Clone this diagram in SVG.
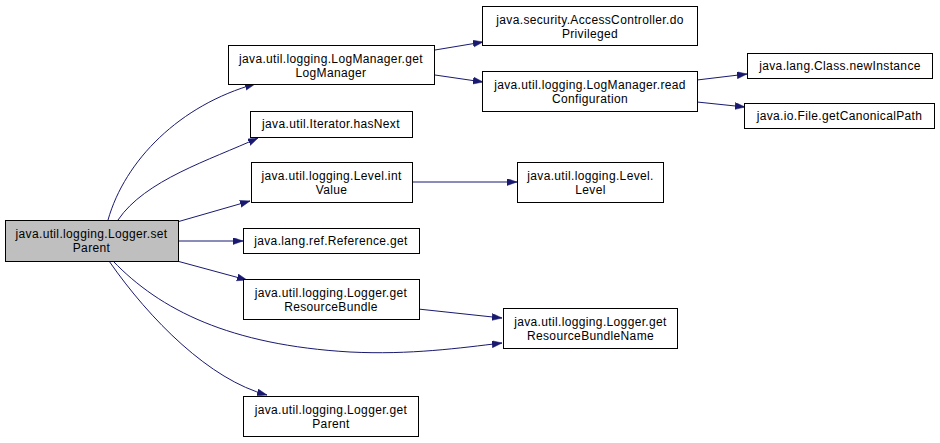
<svg xmlns="http://www.w3.org/2000/svg" width="940" height="443" viewBox="0 0 940 443">
<style>
.n rect{fill:#ffffff;stroke:#000000;stroke-width:1}
.n.root rect{fill:#bfbfbf}
.n text{font-family:"Liberation Sans",Arial,sans-serif;font-size:12px;letter-spacing:0.35px;fill:#000000;text-anchor:middle}
.e path{fill:none;stroke:#191970;stroke-width:1;marker-end:url(#arr)}
</style>
<defs>
<marker id="arr" markerUnits="userSpaceOnUse" markerWidth="11" markerHeight="8" refX="10" refY="3.5" orient="auto" viewBox="0 0 11 8">
<path d="M0,0 L10,3.5 L0,7 z" fill="#191970" stroke="#191970" stroke-width="0.5"/>
</marker>
</defs>
<rect width="940" height="443" fill="#ffffff"/>
<g id="edges" class="e">
<path d="M108,220 C125,160 180,105 255,84"/>
<path d="M118,220 C145,180 210,160 258,138"/>
<path d="M177,222 L250,201"/>
<path d="M178,241 L243,241"/>
<path d="M177,261 L247,280"/>
<path d="M113,261 C160,310 230,345 350,352 C410,355 460,348 502,343"/>
<path d="M109,261 C150,320 210,380 267,395"/>
<path d="M435,50 L483,42"/>
<path d="M435,75 L483,82"/>
<path d="M697,80 L747,74"/>
<path d="M697,102 L745,107"/>
<path d="M412,182 L517,182"/>
<path d="M418,309 L502,318"/>
</g>
<g id="root" class="n root"><rect x="5.5" y="220.5" width="173" height="41"/><text x="91.5" y="238">java.util.logging.Logger.set</text><text x="91.5" y="252">Parent</text></g>
<g id="getLogManager" class="n"><rect x="228.5" y="45.5" width="206" height="39"/><text x="331" y="62.5">java.util.logging.LogManager.get</text><text x="331" y="76.5">LogManager</text></g>
<g id="hasNext" class="n"><rect x="250.5" y="111.5" width="162" height="26"/><text x="331" y="128">java.util.Iterator.hasNext</text></g>
<g id="intValue" class="n"><rect x="251.5" y="162.5" width="161" height="40"/><text x="331.5" y="180">java.util.logging.Level.int</text><text x="331.5" y="194">Value</text></g>
<g id="referenceGet" class="n"><rect x="243.5" y="228.5" width="176" height="25"/><text x="331" y="245">java.lang.ref.Reference.get</text></g>
<g id="getResourceBundle" class="n"><rect x="243.5" y="279.5" width="176" height="40"/><text x="331" y="297">java.util.logging.Logger.get</text><text x="331" y="311">ResourceBundle</text></g>
<g id="getParent" class="n"><rect x="243.5" y="396.5" width="175" height="40"/><text x="331" y="414">java.util.logging.Logger.get</text><text x="331" y="428">Parent</text></g>
<g id="doPrivileged" class="n"><rect x="482.5" y="6.5" width="215" height="39"/><text x="590" y="23.5">java.security.AccessController.do</text><text x="590" y="37.5">Privileged</text></g>
<g id="readConfiguration" class="n"><rect x="482.5" y="71.5" width="215" height="40"/><text x="590" y="89">java.util.logging.LogManager.read</text><text x="590" y="103">Configuration</text></g>
<g id="newInstance" class="n"><rect x="747.5" y="53.5" width="185" height="25"/><text x="840" y="70">java.lang.Class.newInstance</text></g>
<g id="getCanonicalPath" class="n"><rect x="744.5" y="103.5" width="190" height="25"/><text x="839.5" y="120">java.io.File.getCanonicalPath</text></g>
<g id="levelLevel" class="n"><rect x="517.5" y="162.5" width="146" height="40"/><text x="590.5" y="180">java.util.logging.Level.</text><text x="590.5" y="194">Level</text></g>
<g id="getResourceBundleName" class="n"><rect x="503.5" y="308.5" width="174" height="40"/><text x="590.5" y="326">java.util.logging.Logger.get</text><text x="590.5" y="340">ResourceBundleName</text></g>
</svg>
